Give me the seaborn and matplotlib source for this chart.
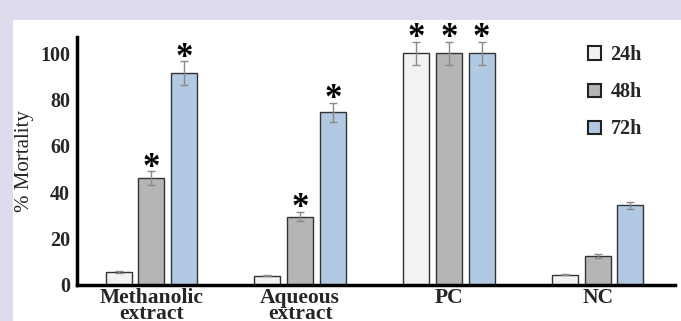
import numpy as np
import pandas as pd
import matplotlib
matplotlib.use("Agg")
import matplotlib.pyplot as plt
import seaborn as sns

groups = ['Methanolic\nextract', 'Aqueous\nextract', 'PC', 'NC']
times = ['24h', '48h', '72h']
mort_24 = [5.5, 4.0, 100, 4.5]
mort_48 = [46, 29.5, 100, 12.5]
mort_72 = [91.5, 74.5, 100, 34.5]
err_24 = [0.4, 0.3, 5, 0.3]
err_48 = [3, 2, 5, 1]
err_72 = [5, 4, 5, 1.5]
star_24 = [0, 0, 1, 0]
star_48 = [1, 1, 1, 0]
star_72 = [1, 1, 1, 0]

colors = ['#f2f2f2', '#b5b5b5', '#a9c9ea']

rows = []
for i, g in enumerate(groups):
    for t, m, e, s in zip(times, [mort_24, mort_48, mort_72], [err_24, err_48, err_72],
                          [star_24, star_48, star_72]):
        rows.append({'group': g, 'time': t, 'mort': m[i], 'err': e[i], 'star': s[i]})
df = pd.DataFrame(rows)

sns.set_style('white')
plt.rcParams['font.family'] = ['Liberation Serif', 'DejaVu Serif']

fig = plt.figure(figsize=(6.81, 3.21), dpi=100)
fig.patch.set_facecolor('#dcdcec')
fig.patches.append(plt.Rectangle((13 / 681, 0), 1, (321 - 20) / 321, transform=fig.transFigure,
                                 facecolor='white', edgecolor='none', zorder=-10))
ax = fig.add_axes([77 / 681, 36 / 321, 598 / 681, 248 / 321])
ax.patch.set_alpha(0)

sns.barplot(data=df, x='group', y='mort', hue='time', order=groups, hue_order=times,
            palette=colors, errorbar=None, width=0.66, gap=0.2, edgecolor='#333333',
            linewidth=1.0, ax=ax)

# error bars and asterisks from the bar patches
bars = [p for p in ax.patches if p.get_height() > 0]
bars = sorted(bars, key=lambda p: p.get_x())
for p, (_, r) in zip(bars, df.iterrows()):
    cx = p.get_x() + p.get_width() / 2
    ax.errorbar(cx, r['mort'], yerr=r['err'], fmt='none', ecolor='#8a8a8a',
                elinewidth=1, capsize=3, capthick=1)
    if r['star']:
        ax.text(cx, r['mort'] + r['err'] - 2.3, '*', ha='center', va='baseline',
                fontsize=25, fontweight='bold', color='black', clip_on=False)

ax.set_xlim(-0.5, 3.52)
ax.set_ylim(0, 107)
ax.set_yticks([0, 20, 40, 60, 80, 100])
ax.set_xlabel('')
ax.set_ylabel('% Mortality', fontsize=15, labelpad=4)
ax.tick_params(length=0, pad=5)
for lab in ax.get_yticklabels():
    lab.set_fontweight('bold')
    lab.set_fontsize(14.5)
ax.set_xticks(range(4))
ax.set_xticklabels(groups, fontweight='bold', fontsize=15.5, linespacing=0.75)
ax.tick_params(axis='x', pad=2)
for s in ['top', 'right']:
    ax.spines[s].set_visible(False)
for s in ['left', 'bottom']:
    ax.spines[s].set_linewidth(2.5)
    ax.spines[s].set_color('black')

leg = ax.legend(loc='upper right', bbox_to_anchor=(0.975, 1.04), frameon=False,
                handlelength=0.65, handleheight=0.65, labelspacing=0.85, handletextpad=0.45,
                prop={'weight': 'bold', 'size': 14.5})
for h in leg.legend_handles:
    h.set_edgecolor('#222222')
    h.set_linewidth(1.5)

fig.savefig('out.png', dpi=100, facecolor=fig.get_facecolor())
